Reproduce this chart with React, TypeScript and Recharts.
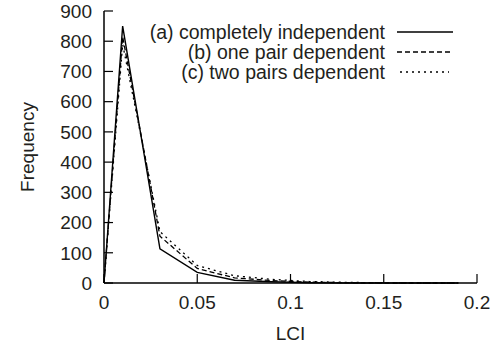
import { LineChart, Line, XAxis, YAxis, Legend } from 'recharts';

// bin centres (LCI) and frequency per bin
const lci = [0, 0.01, 0.03, 0.05, 0.07, 0.09, 0.11, 0.13, 0.15, 0.17, 0.19];
const independent = [0, 850, 113, 35, 9, 4, 1, 0, 0, 0, 0];
const onePair = [0, 815, 155, 48, 17, 8, 3, 1, 0, 0, 0];
const twoPairs = [0, 790, 170, 58, 24, 12, 5, 2, 1, 0, 0];

const xTicks = [0, 0.05, 0.1, 0.15, 0.2];
const xTickLabels = ['0', '0.05', '0.1', '0.15', '0.2'];
const yTicks = [0, 100, 200, 300, 400, 500, 600, 700, 800, 900];

const seriesNames = ['(a) completely independent', '(b) one pair dependent', '(c) two pairs dependent'];
const seriesDash = [undefined, '5 3', '2 4'];

const data = lci.map((x, i) => ({
  lci: x,
  a: independent[i],
  b: onePair[i],
  c: twoPairs[i],
}));

const FONT = '"Liberation Sans", Arial, Helvetica, sans-serif';
const TEXT = '#231f20';
const TICK_LEN = 9;

// gnuplot-style ticks: label outside, tick mark pointing into the plot
const XTick = (props: any) => {
  const { x, y, payload } = props;
  const idx = xTicks.indexOf(payload.value);
  const axisY = y - 13;
  return (
    <g>
      <line x1={x} x2={x} y1={axisY} y2={axisY - TICK_LEN} stroke="#000" strokeWidth={1.2} />
      <text x={x} y={y} dy="0.71em" textAnchor="middle" fontSize={19} fontFamily={FONT} fill={TEXT}>
        {idx >= 0 ? xTickLabels[idx] : payload.value}
      </text>
    </g>
  );
};

const YTick = (props: any) => {
  const { x, y, payload } = props;
  const axisX = x + 12;
  return (
    <g>
      <line x1={axisX} x2={axisX + TICK_LEN} y1={y} y2={y} stroke="#000" strokeWidth={1.2} />
      <text x={x} y={y} dy="0.355em" textAnchor="end" fontSize={19} fontFamily={FONT} fill={TEXT}>
        {payload.value}
      </text>
    </g>
  );
};

const LegendBox = () => (
  <svg width={502} height={90} style={{ display: 'block' }}>
    {seriesNames.map((name, i) => {
      const cy = 32 + i * 20;
      return (
        <g key={name}>
          <text x={385} y={cy} dy="0.355em" textAnchor="end" fontSize={19.5} fontFamily={FONT} fill={TEXT}>
            {name}
          </text>
          <line x1={i === 2 ? 400 : 397} x2={i === 2 ? 449 : 453} y1={cy} y2={cy} stroke="#000" strokeWidth={1.3} strokeDasharray={seriesDash[i]} />
        </g>
      );
    })}
  </svg>
);

export default function App() {
  return (
    <div style={{ position: 'absolute', left: 0, top: 0, width: 502, height: 346, background: '#fff' }}>
      <LineChart width={502} height={346} data={data} margin={{ top: 11, right: 25, bottom: 0, left: 0 }}>
        <XAxis
          dataKey="lci"
          type="number"
          domain={[0, 0.2]}
          ticks={xTicks}
          tickSize={0}
          tickMargin={13}
          tick={<XTick />}
          axisLine={{ stroke: '#000', strokeWidth: 1.5 }}
          height={63}
          label={{ value: 'LCI', position: 'insideBottom', offset: 6, fontSize: 19, fontFamily: FONT, fill: TEXT }}
        />
        <YAxis
          type="number"
          domain={[0, 900]}
          ticks={yTicks}
          tickSize={0}
          tickMargin={12}
          tick={<YTick />}
          axisLine={{ stroke: '#000', strokeWidth: 1.5 }}
          width={104}
          label={{ value: 'Frequency', angle: -90, position: 'insideLeft', offset: 27, fontSize: 19, fontFamily: FONT, fill: TEXT, style: { textAnchor: 'middle' } }}
        />
        <Legend
          layout="vertical"
          align="center"
          verticalAlign="middle"
          wrapperStyle={{ top: 0, left: 0, width: 502, height: 90 }}
          content={<LegendBox />}
        />
        <Line dataKey="c" stroke="#000" strokeWidth={1.3} strokeDasharray="2 4" dot={false} isAnimationActive={false} />
        <Line dataKey="b" stroke="#000" strokeWidth={1.3} strokeDasharray="5 3" dot={false} isAnimationActive={false} />
        <Line dataKey="a" stroke="#000" strokeWidth={1.4} dot={false} isAnimationActive={false} />
      </LineChart>
    </div>
  );
}
